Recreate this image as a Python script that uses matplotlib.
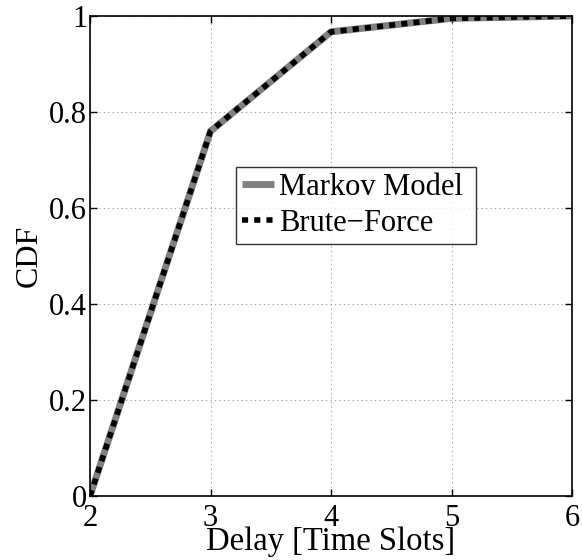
import numpy as np
import matplotlib.pyplot as plt

plt.rcParams['font.family'] = ['Liberation Serif', 'DejaVu Serif']

delay = [2, 3, 4, 5, 6]
cdf_markov = [0.0, 0.76, 0.967, 0.995, 1.0]
cdf_brute = [0.0, 0.76, 0.967, 0.995, 1.0]
x_ticks = [2, 3, 4, 5, 6]
y_ticks = [0, 0.2, 0.4, 0.6, 0.8, 1]
y_tick_labels = ['0', '0.2', '0.4', '0.6', '0.8', '1']

fig = plt.figure(figsize=(5.82, 5.6), dpi=100)
ax = fig.add_axes([90 / 582, 64 / 560, 482 / 582, 480 / 560])

ax.plot(delay, cdf_markov, color='#808080', linewidth=5, solid_capstyle='butt',
        label='Markov Model')
ax.plot(delay, cdf_brute, color='black', linewidth=4, linestyle=(0, (1.1, 1.1)),
        dash_capstyle='butt', label='Brute\u2212Force')

ax.set_xlim(2, 6)
ax.set_ylim(0, 1)
ax.set_xticks(x_ticks)
ax.set_yticks(y_ticks)
ax.set_yticklabels(y_tick_labels)
ax.tick_params(direction='in', length=5, width=1, labelsize=22,
               top=True, right=True)
ax.tick_params(axis='x', pad=6)
ax.tick_params(axis='y', pad=2)
ax.grid(True, linestyle=(0, (1, 3)), color='#999999', linewidth=0.8)
for s in ax.spines.values():
    s.set_linewidth(1.2)

ax.set_xlabel('Delay [Time Slots]', fontsize=23.5, labelpad=-5)
ax.set_ylabel('CDF', fontsize=23, labelpad=4)

leg = ax.legend(loc='upper left', bbox_to_anchor=(0.303, 0.522, 0.498, 0.164),
                mode='expand', fontsize=22, frameon=True, fancybox=False,
                edgecolor='black', handlelength=1.05, handletextpad=0.15,
                borderpad=0.2, labelspacing=0.22, borderaxespad=0)
leg.get_frame().set_linewidth(1.0)

fig.savefig('out.png', dpi=100)
